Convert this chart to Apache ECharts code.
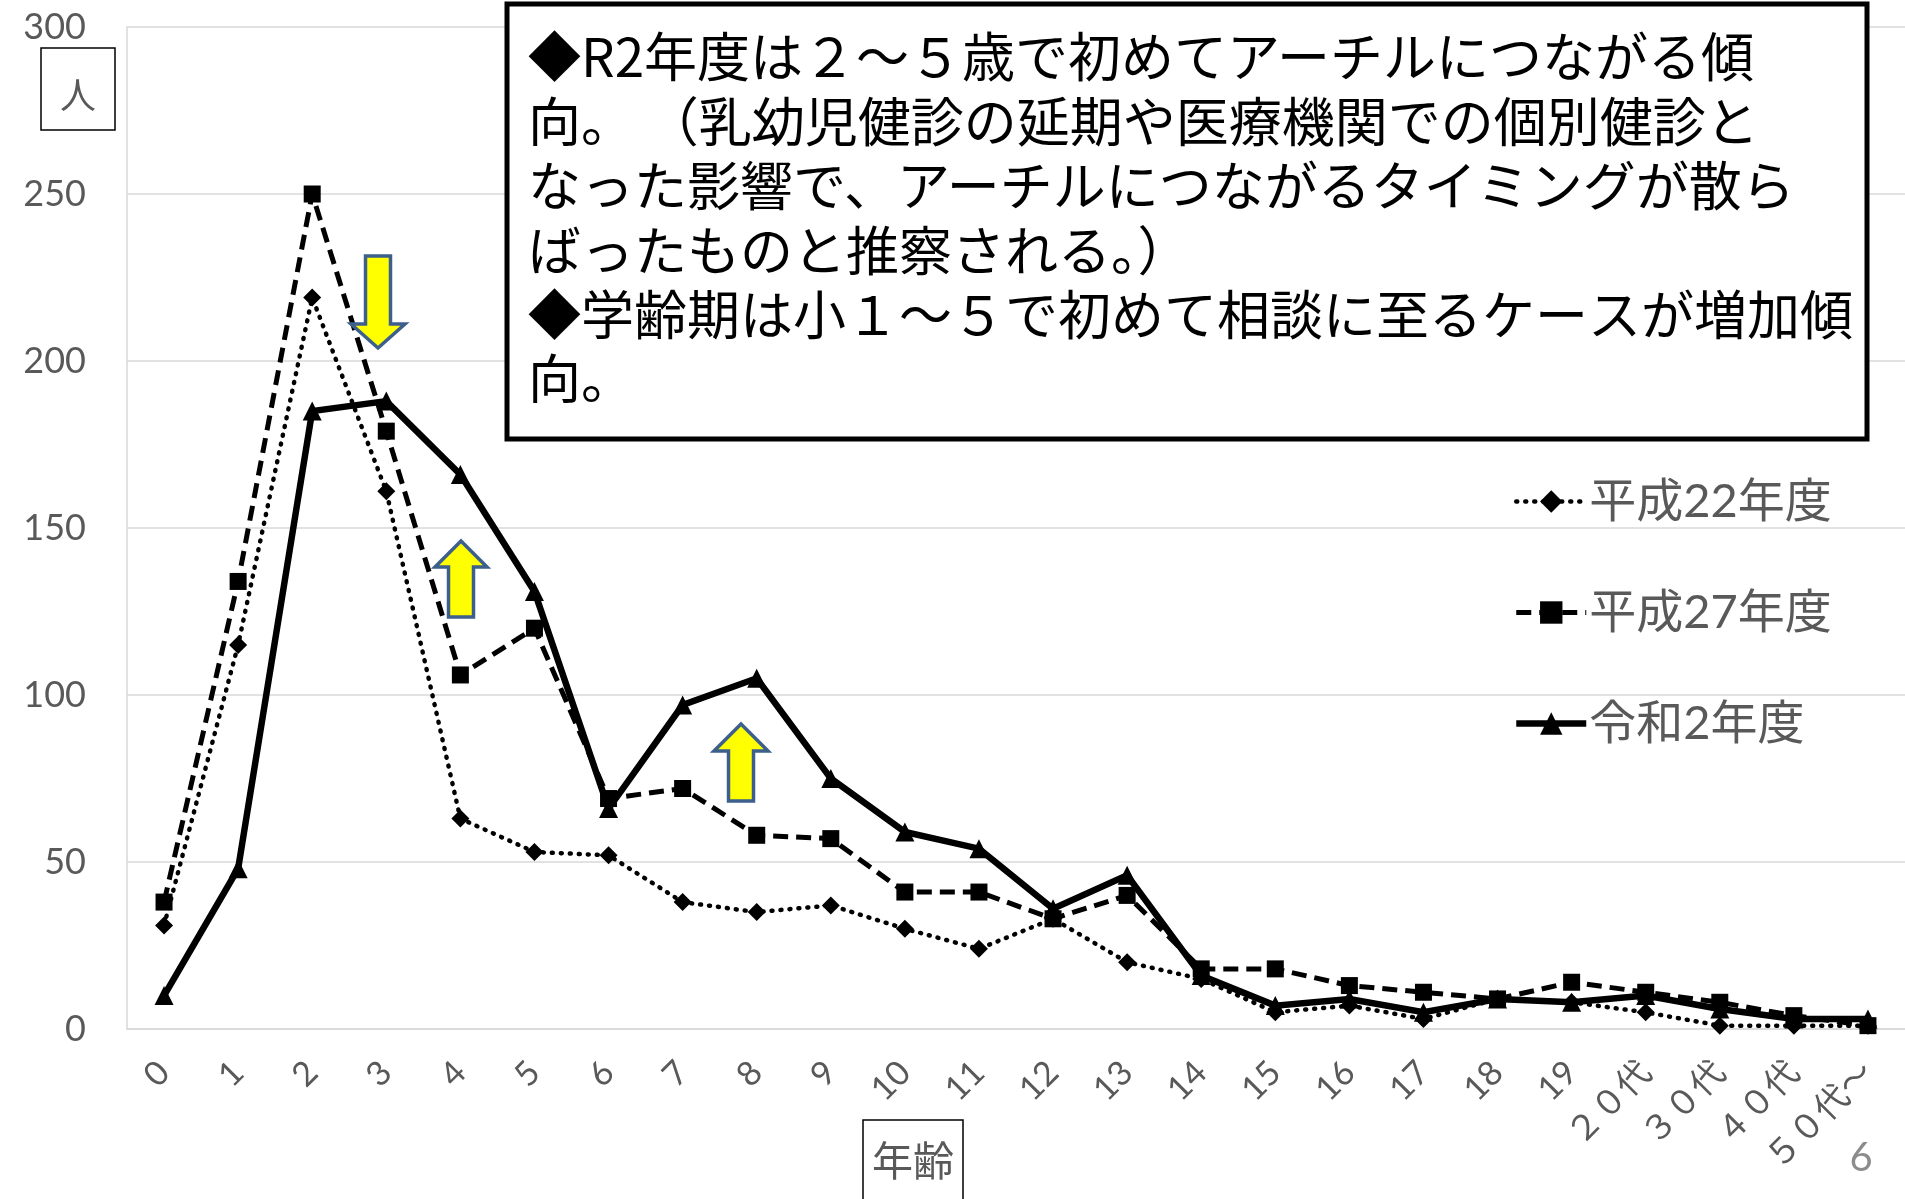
<!DOCTYPE html>
<html lang="ja">
<head>
<meta charset="utf-8">
<title>年齢別 初回相談件数</title>
<script src="https://cdn.jsdelivr.net/npm/echarts@6/dist/echarts.min.js"></script>
<style>
  html, body { margin: 0; padding: 0; background: #fff; }
  #chart { width: 1905px; height: 1199px; }
</style>
</head>
<body>
<div id="chart"></div>
<script>
// 年齢区分
const ageLabels = ['0','1','2','3','4','5','6','7','8','9','10','11','12','13','14','15','16','17','18','19','２０代','３０代','４０代','５０代～'];

// 年度別の人数
const seriesNames = ['平成22年度', '平成27年度', '令和2年度'];
const h22Values = [31,115,219,161,63,53,52,38,35,37,30,24,33,20,15,5,7,3,9,8,5,1,1,1];
const h27Values = [38,134,250,179,106,120,69,72,58,57,41,41,33,40,18,18,13,11,9,14,11,8,4,1];
const r2Values  = [10,48,185,188,166,131,66,97,105,75,59,54,36,46,16,7,9,5,9,8,10,6,3,3];

// 縦軸
const yMin = 0, yMax = 300, yStep = 50;

// 注記
const noteLines = [
  '◆R2年度は２～５歳で初めてアーチルにつながる傾',
  '向。 （乳幼児健診の延期や医療機関での個別健診と',
  'なった影響で、アーチルにつながるタイミングが散ら',
  'ばったものと推察される。）',
  '◆学齢期は小１～５で初めて相談に至るケースが増加傾',
  '向。'
];

const LATIN = "Lato, 'Noto Sans CJK JP', sans-serif";
const CJK = "'Noto Sans CJK JP', sans-serif";
const GRAY = '#595959';
const GRID_GRAY = '#d9d9d9';
const ARROW_FILL = '#ffff00';
const ARROW_EDGE = '#3d5f8c';

function upArrow(cx, top, headBase, bottom, headHalf, shaftHalf) {
  return [[cx, top], [cx + headHalf, headBase], [cx + shaftHalf, headBase],
          [cx + shaftHalf, bottom], [cx - shaftHalf, bottom],
          [cx - shaftHalf, headBase], [cx - headHalf, headBase]];
}
function downArrow(cx, top, headBase, tip, headHalf, shaftHalf) {
  return [[cx - shaftHalf, top], [cx + shaftHalf, top], [cx + shaftHalf, headBase],
          [cx + headHalf, headBase], [cx, tip], [cx - headHalf, headBase],
          [cx - shaftHalf, headBase]];
}
function arrow(points) {
  return {
    type: 'polygon', z: 120,
    shape: { points },
    style: { fill: ARROW_FILL, stroke: ARROW_EDGE, lineWidth: 3.5, lineJoin: 'miter' }
  };
}

const chart = echarts.init(document.getElementById('chart'), null, { renderer: 'canvas' });

chart.setOption({
  animation: false,
  backgroundColor: '#ffffff',
  grid: { left: 127, top: 27, width: 1780, height: 1002, containLabel: false },
  xAxis: {
    type: 'category',
    data: ageLabels,
    boundaryGap: true,
    axisLine: { show: true, lineStyle: { color: GRID_GRAY, width: 1.5 } },
    axisTick: { show: false },
    axisLabel: {
      interval: 0, rotate: 45, margin: 38,
      color: GRAY, fontSize: 34, fontFamily: LATIN
    },
    splitLine: { show: false }
  },
  yAxis: {
    type: 'value',
    min: yMin, max: yMax, interval: yStep,
    axisLine: { show: true, lineStyle: { color: GRID_GRAY, width: 1.5 } },
    axisTick: { show: false },
    axisLabel: { color: GRAY, fontSize: 36, fontFamily: LATIN, margin: 41 },
    splitLine: { show: true, lineStyle: { color: GRID_GRAY, width: 1.5 } }
  },
  legend: {
    orient: 'vertical',
    left: 1508, top: 473,
    itemWidth: 70, itemHeight: 28,
    itemGap: 64,
    data: seriesNames,
    lineStyle: { width: 'inherit', type: 'inherit', cap: 'inherit' },
    textStyle: { color: GRAY, fontSize: 47, fontFamily: LATIN, padding: [0, 0, 0, -2] }
  },
  series: [
    {
      name: seriesNames[0], type: 'line', data: h22Values,
      symbol: 'diamond', symbolSize: 18,
      itemStyle: { color: '#000' },
      lineStyle: { color: '#000', width: 4.5, type: [1, 8], cap: 'round' },
      z: 2
    },
    {
      name: seriesNames[1], type: 'line', data: h27Values,
      symbol: 'rect', symbolSize: 17,
      itemStyle: { color: '#000' },
      lineStyle: { color: '#000', width: 5, type: [15, 8], cap: 'butt' },
      z: 3
    },
    {
      name: seriesNames[2], type: 'line', data: r2Values,
      symbol: 'triangle', symbolSize: 19,
      itemStyle: { color: '#000' },
      lineStyle: { color: '#000', width: 6.5, join: 'miter' },
      z: 4
    }
  ],
  graphic: [
    // 注記ボックス
    {
      type: 'rect', z: 100,
      shape: { x: 507, y: 4, width: 1360, height: 435 },
      style: { fill: '#ffffff', stroke: '#000', lineWidth: 5 }
    },
    {
      type: 'text', z: 101,
      style: {
        x: 528, y: 25,
        text: noteLines.join('\n'),
        font: "53px " + CJK,
        lineHeight: 64.4,
        fill: '#000',
        align: 'left', verticalAlign: 'top'
      }
    },
    // 縦軸単位
    {
      type: 'rect', z: 100,
      shape: { x: 41, y: 48, width: 74, height: 82 },
      style: { fill: '#ffffff', stroke: '#000', lineWidth: 1.5 }
    },
    {
      type: 'text', z: 101,
      style: { x: 78, y: 95, text: '人', font: "36px " + CJK, fill: GRAY, align: 'center', verticalAlign: 'middle' }
    },
    // 横軸単位
    {
      type: 'rect', z: 100,
      shape: { x: 863, y: 1120, width: 100, height: 100 },
      style: { fill: '#ffffff', stroke: '#000', lineWidth: 1.5 }
    },
    {
      type: 'text', z: 101,
      style: { x: 913, y: 1160, text: '年齢', font: "41px " + CJK, fill: GRAY, align: 'center', verticalAlign: 'middle' }
    },
    // ページ番号
    {
      type: 'text', z: 101,
      style: { x: 1861, y: 1158, text: '6', font: "40px " + LATIN, fill: '#8c8c8c', align: 'center', verticalAlign: 'middle' }
    },
    // 矢印
    arrow(downArrow(378, 256, 324, 348, 27, 12.5)),
    arrow(upArrow(461, 541, 567, 617, 26, 12.5)),
    arrow(upArrow(741, 724, 751, 801, 27, 12.5))
  ]
});
</script>
</body>
</html>
